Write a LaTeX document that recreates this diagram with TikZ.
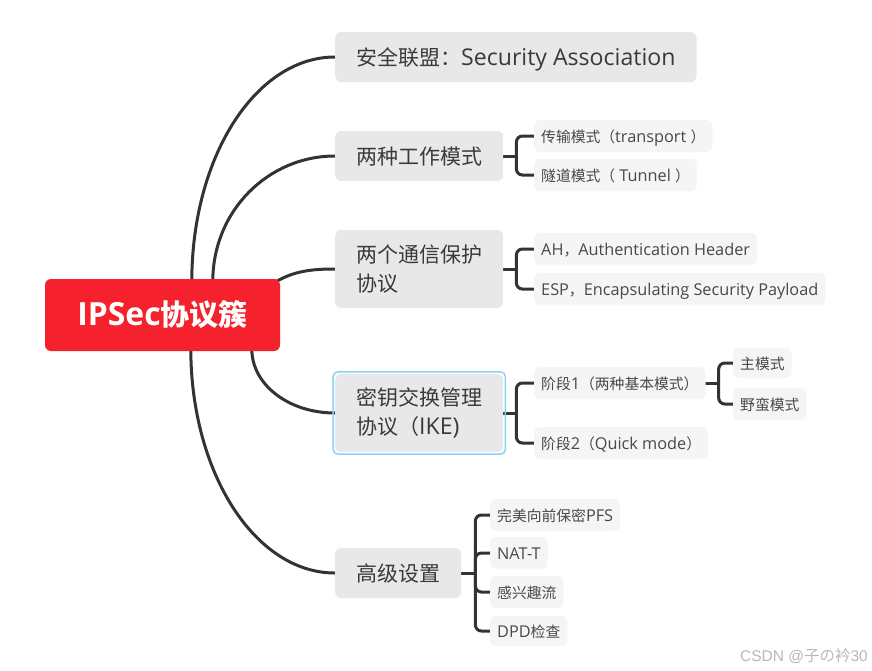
\documentclass[tikz,border=0pt]{standalone}
\usepackage{fontspec}
\setmainfont{Noto Sans CJK SC}
\newfontfamily\latfont[Scale=1.1]{Open Sans}
\newfontfamily\wmfont{Liberation Sans}
\newcommand\ltn[1]{{\latfont #1}}
\usetikzlibrary{backgrounds}
\definecolor{rootred}{RGB}{245,33,45}
\definecolor{lonefill}{RGB}{232,232,232}
\definecolor{ltwofill}{RGB}{245,245,245}
\definecolor{linec}{RGB}{51,51,51}
\definecolor{txtone}{RGB}{58,58,58}
\definecolor{txttwo}{RGB}{72,72,72}
\definecolor{selblue}{RGB}{140,210,245}
\definecolor{wmgray}{RGB}{185,185,185}
\begin{document}
\begin{tikzpicture}[x=1pt,y=-1pt,
  rootnode/.style={fill=rootred, rounded corners=6pt, text=white,
    font=\fontsize{29}{34}\selectfont\bfseries, minimum width=235pt,
    minimum height=72pt, inner sep=0pt},
  lone/.style={fill=lonefill, rounded corners=6pt, text=txtone,
    font=\fontsize{21}{29}\selectfont, anchor=west, align=left,
    inner xsep=21pt, inner ysep=0pt, minimum height=50pt},
  lonesingle/.style={lone, text height=18pt, text depth=1pt},
  ltwo/.style={fill=ltwofill, rounded corners=6pt, text=txttwo,
    font=\fontsize{14.8}{18}\selectfont, anchor=west, align=left,
    inner xsep=7pt, inner ysep=0pt, minimum height=32pt,
    text height=13.8pt, text depth=0pt},
  conn/.style={draw=linec, line width=3pt, line cap=round},
  bracket/.style={conn, rounded corners=6pt}]
\useasboundingbox (0,0) rectangle (872,670);

% root
\node[rootnode] (root) at (162.5,315) {\ltn{IPSec}协议簇};

% level 1
\node[lonesingle] (sa) at (335,57) {安全联盟：\ltn{Security Association}};
\node[lonesingle] (mode) at (335,156) {两种工作模式};
\node[lone, minimum height=78pt] (proto) at (335,269) {两个通信保护\\协议};
\node[lone, minimum height=78pt] (ike) at (335,413) {密钥交换管理\\协议（\ltn{IKE)}};
\node[lonesingle] (adv) at (335,573) {高级设置};
\draw[selblue, line width=1.5pt, rounded corners=5pt]
  ([xshift=-2pt,yshift=2pt]ike.north west) rectangle ([xshift=2pt,yshift=-2pt]ike.south east);

% level 2
\node[ltwo] (tr) at (534,136) {传输模式（\ltn{transport }）};
\node[ltwo] (tu) at (534,175) {隧道模式（\ltn{ Tunnel }）};
\node[ltwo] (ah) at (534,249) {\ltn{AH}，\ltn{Authentication Header}};
\node[ltwo] (esp) at (534,289) {\ltn{ESP}，\ltn{Encapsulating Security Payload}};
\node[ltwo] (pa) at (534,383) {阶段\ltn{1}（两种基本模式）};
\node[ltwo] (pb) at (534,443) {阶段\ltn{2}（\ltn{Quick mode}）};
\node[ltwo, minimum height=30pt] (mm) at (733,363) {主模式};
\node[ltwo] (am) at (733,404) {野蛮模式};
\node[ltwo] (pfs) at (490,515) {完美向前保密\ltn{PFS}};
\node[ltwo] (nat) at (490,553) {\ltn{NAT-T}};
\node[ltwo] (intr) at (490,592) {感兴趣流};
\node[ltwo, minimum height=30pt] (dpd) at (490,631) {\ltn{DPD}检查};

% watermark
\node[anchor=east, text=wmgray, font=\fontsize{15.5}{18}\selectfont, inner sep=0pt] (wm) at (868,656) {{\wmfont CSDN @}子の衿{\wmfont 30}};

\begin{scope}[on background layer]
  \fill[white] (0,0) rectangle (872,670);
  % root curves
  \draw[conn] ([xshift=147pt,yshift=-2pt]root.north west) .. controls (192,156) and (256,57) .. (sa.west);
  \draw[conn] ([xshift=168pt,yshift=-2pt]root.north west) .. controls (213,211) and (268,156) .. (mode.west);
  \draw[conn] ([xshift=231pt,yshift=-3pt]root.north west) .. controls (294,271) and (312,269) .. (proto.west);
  \draw[conn] ([xshift=207pt,yshift=2pt]root.south west) .. controls (252,385) and (289,413) .. (ike.west);
  \draw[conn] ([xshift=146pt,yshift=2pt]root.south west) .. controls (191,473) and (255,573) .. (adv.west);

  % brackets
  \draw[conn] (mode.east) -- ++(13,0) coordinate (bmode);
  \draw[bracket] (bmode) |- (tr.west);
  \draw[bracket] (bmode) |- (tu.west);

  \draw[conn] (proto.east) -- ++(13,0) coordinate (bproto);
  \draw[bracket] (bproto) |- (ah.west);
  \draw[bracket] (bproto) |- (esp.west);

  \draw[conn] (ike.east) -- ++(13,0) coordinate (bike);
  \draw[bracket] (bike) |- (pa.west);
  \draw[bracket] (bike) |- (pb.west);

  \draw[conn] (pa.east) -- ++(13,0) coordinate (bpa);
  \draw[bracket] (bpa) |- (mm.west);
  \draw[bracket] (bpa) |- (am.west);

  \draw[conn] (adv.east) -- ++(14,0) coordinate (badv);
  \draw[bracket] (badv) |- (pfs.west);
  \draw[bracket] (badv) |- (nat.west);
  \draw[bracket] (badv) |- (intr.west);
  \draw[bracket] (badv) |- (dpd.west);
\end{scope}
\end{tikzpicture}
\end{document}
